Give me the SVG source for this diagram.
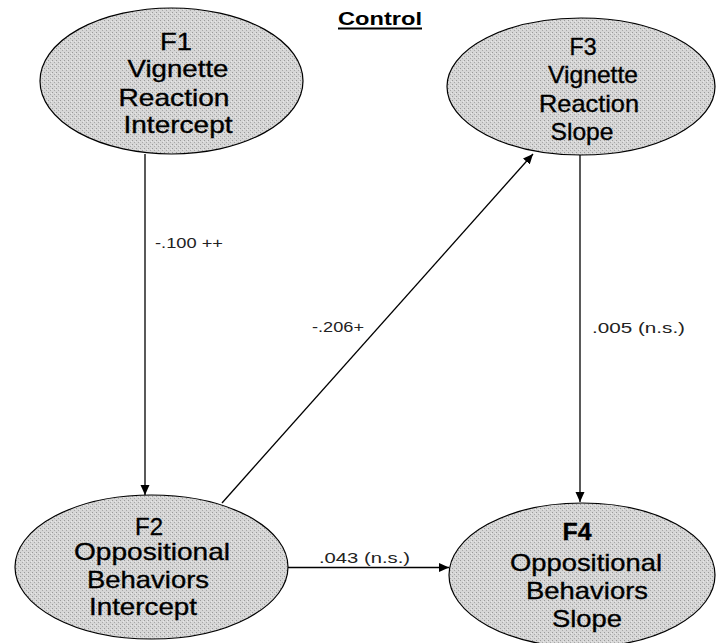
<svg xmlns="http://www.w3.org/2000/svg" width="716" height="643" viewBox="0 0 716 643">
  <style>
    .node { fill: url(#stipple); stroke: #000; stroke-width: 1.2; }
    .lbl { font-family: "Liberation Sans", Arial, sans-serif; font-size: 24px; fill: #000; stroke: #000; stroke-width: 0.35; text-anchor: middle; }
    .edge { stroke: #000; stroke-width: 1.3; fill: none; marker-end: url(#arrow); }
    .coef { font-family: "Liberation Sans", Arial, sans-serif; font-size: 14px; fill: #222; }
    .title { font-family: "Liberation Sans", Arial, sans-serif; font-size: 18px; font-weight: bold; fill: #000; }
  </style>
  <defs>
    <marker id="arrow" viewBox="0 0 10 10" refX="10" refY="5" markerWidth="10" markerHeight="10" markerUnits="userSpaceOnUse" orient="auto">
      <path d="M0,0.5 L10,5 L0,9.5 Z" fill="#000"/>
    </marker>
    <!-- halftone grey fill for the factor ellipses -->
    <pattern id="stipple" width="4" height="4" patternUnits="userSpaceOnUse">
      <rect width="4" height="4" fill="#d6d6d6"/>
      <rect x="0" y="0" width="1" height="1" fill="#9a9a9a"/>
      <rect x="2" y="2" width="1" height="1" fill="#a8a8a8"/>
      <rect x="3" y="1" width="1" height="1" fill="#e8e8e8"/>
    </pattern>
  </defs>
  <rect width="716" height="643" fill="#fff"/>

  <!-- heading -->
  <g id="title">
    <text class="title" x="338" y="25" textLength="84" lengthAdjust="spacingAndGlyphs">Control</text>
    <rect x="338" y="27.5" width="84" height="2" fill="#000"/>
  </g>

  <!-- paths between factors -->
  <g id="connectors">
    <line class="edge" x1="145" y1="154" x2="145" y2="495"/>
    <line class="edge" x1="580" y1="155" x2="580" y2="502"/>
    <line class="edge" x1="222" y1="503" x2="533" y2="154"/>
    <line class="edge" x1="288" y1="567.5" x2="449" y2="567.5"/>
    <text class="coef" x="155" y="248" textLength="68" lengthAdjust="spacingAndGlyphs">-.100 ++</text>
    <text class="coef" x="312" y="332" textLength="52" lengthAdjust="spacingAndGlyphs">-.206+</text>
    <text class="coef" x="592" y="333" textLength="93" lengthAdjust="spacingAndGlyphs">.005 (n.s.)</text>
    <text class="coef" x="319" y="563" textLength="91" lengthAdjust="spacingAndGlyphs">.043 (n.s.)</text>
  </g>

  <g id="F1">
    <ellipse class="node" cx="171.5" cy="81" rx="131.5" ry="73"/>
    <text class="lbl" x="176" y="50" textLength="32" lengthAdjust="spacingAndGlyphs">F1</text>
    <text class="lbl" x="178" y="77" textLength="101" lengthAdjust="spacingAndGlyphs">Vignette</text>
    <text class="lbl" x="174" y="106" textLength="111" lengthAdjust="spacingAndGlyphs">Reaction</text>
    <text class="lbl" x="178" y="133" textLength="109" lengthAdjust="spacingAndGlyphs">Intercept</text>
  </g>

  <g id="F3">
    <ellipse class="node" cx="581" cy="86.5" rx="134" ry="68.5"/>
    <text class="lbl" x="583" y="55" textLength="27" lengthAdjust="spacingAndGlyphs">F3</text>
    <text class="lbl" x="593" y="83" textLength="90" lengthAdjust="spacingAndGlyphs">Vignette</text>
    <text class="lbl" x="589" y="112" textLength="100" lengthAdjust="spacingAndGlyphs">Reaction</text>
    <text class="lbl" x="582" y="140" textLength="63" lengthAdjust="spacingAndGlyphs">Slope</text>
  </g>

  <g id="F2">
    <ellipse class="node" cx="151.5" cy="567" rx="136.5" ry="72"/>
    <text class="lbl" x="149" y="535" textLength="28" lengthAdjust="spacingAndGlyphs">F2</text>
    <text class="lbl" x="152" y="560" textLength="156" lengthAdjust="spacingAndGlyphs">Oppositional</text>
    <text class="lbl" x="148" y="588" textLength="122" lengthAdjust="spacingAndGlyphs">Behaviors</text>
    <text class="lbl" x="143" y="615" textLength="108" lengthAdjust="spacingAndGlyphs">Intercept</text>
  </g>

  <g id="F4">
    <ellipse class="node" cx="582" cy="575" rx="133" ry="72"/>
    <text class="lbl" x="577" y="540" textLength="29" lengthAdjust="spacingAndGlyphs" font-weight="bold">F4</text>
    <text class="lbl" x="586" y="571" textLength="152" lengthAdjust="spacingAndGlyphs">Oppositional</text>
    <text class="lbl" x="587" y="599" textLength="122" lengthAdjust="spacingAndGlyphs">Behaviors</text>
    <text class="lbl" x="587" y="627" textLength="70" lengthAdjust="spacingAndGlyphs">Slope</text>
  </g>
</svg>
